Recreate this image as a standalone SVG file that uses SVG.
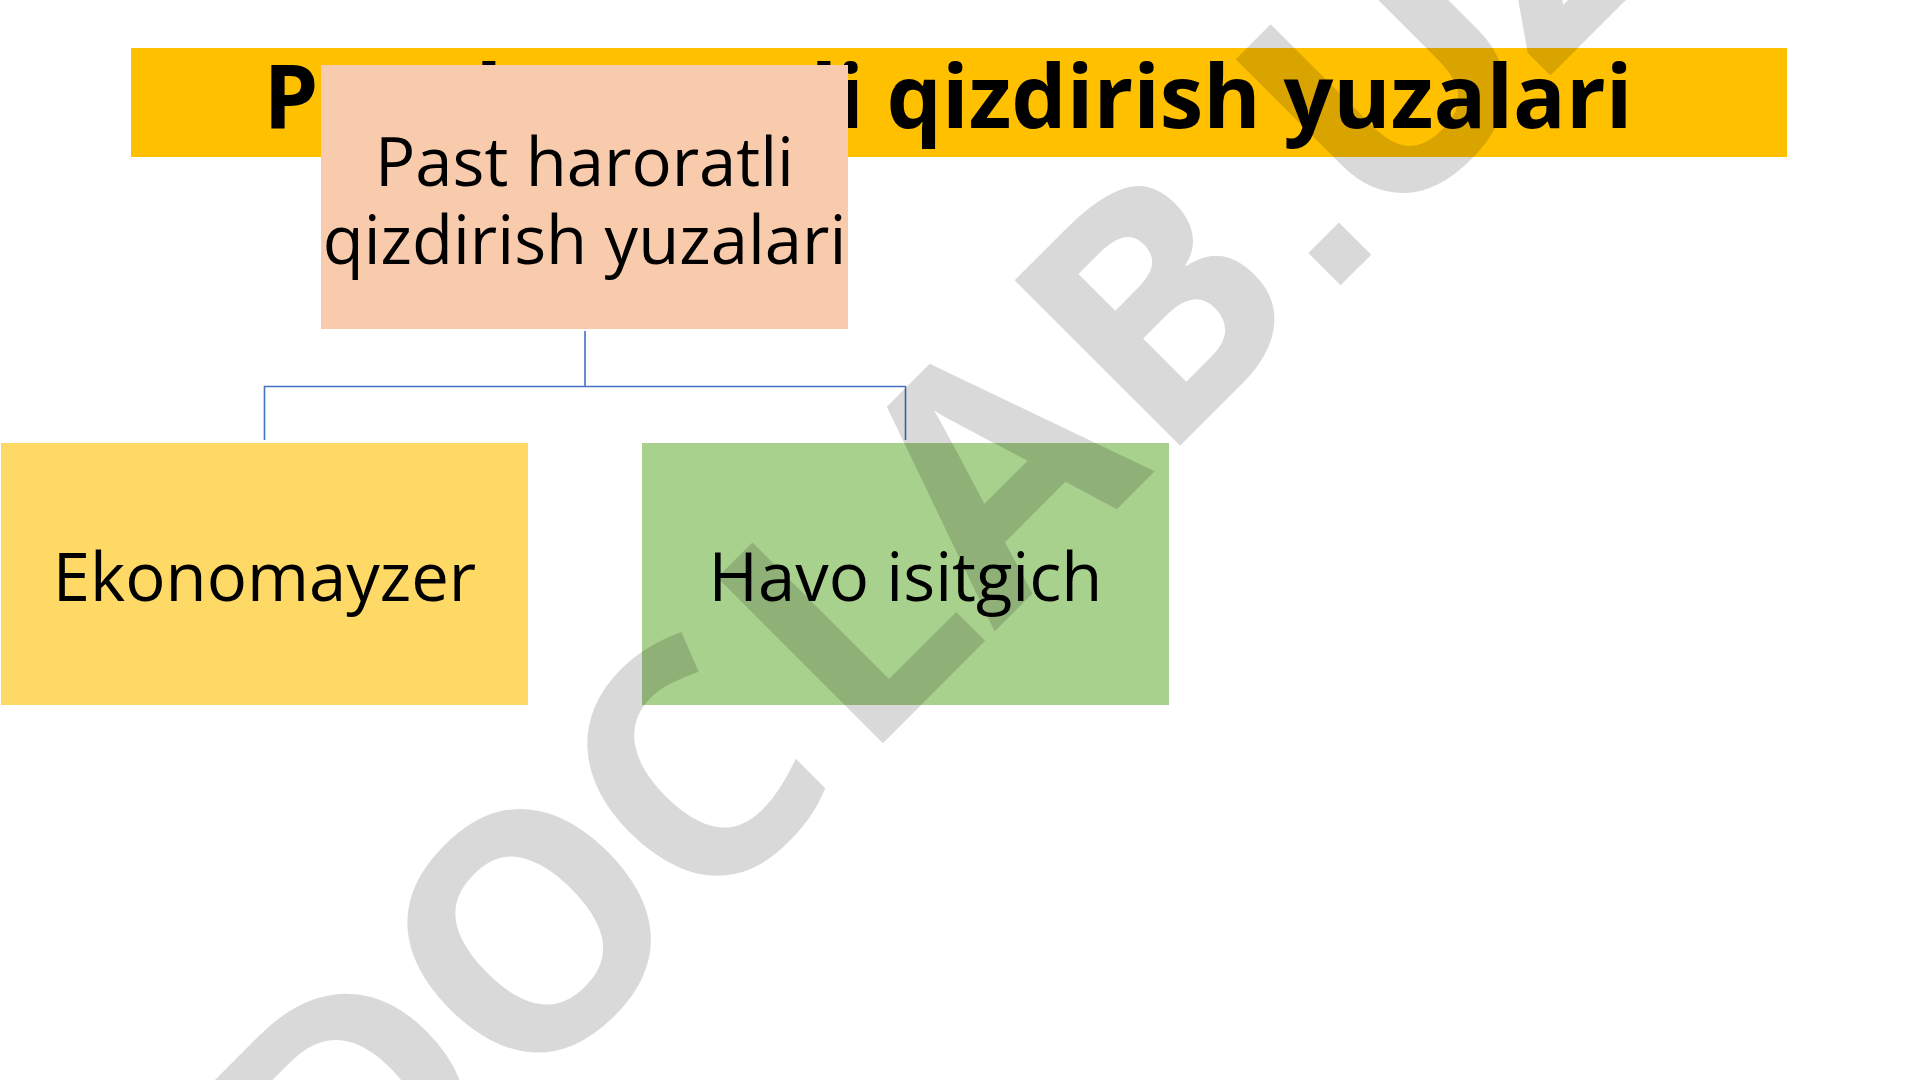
<svg xmlns="http://www.w3.org/2000/svg" width="1920" height="1080" viewBox="0 0 1920 1080">
  <style>
    .label { font-family: "Open Sans", "Noto Sans", "Liberation Sans", sans-serif; font-size: 67px; fill: #000000; text-anchor: middle; }
    .title { font-family: "Open Sans", "Noto Sans", "Liberation Sans", sans-serif; font-size: 87.5px; font-weight: bold; fill: #000000; text-anchor: middle; }
    .conn { fill: none; stroke: #4472C4; stroke-width: 1.6; }
    .wm { font-family: "Open Sans", "Noto Sans", "Liberation Sans", sans-serif; font-size: 328px; font-weight: bold; fill: #000000; fill-opacity: 0.15; text-anchor: middle; }
    .wmdot { font-family: "Liberation Sans", Arial, sans-serif; font-size: 307px; font-weight: bold; fill: #000000; fill-opacity: 0.15; text-anchor: middle; }
  </style>
  <rect x="0" y="0" width="1920" height="1080" fill="#FFFFFF"/>

  <g id="title">
    <rect x="131" y="48" width="1656" height="109" fill="#FFC000"/>
    <text class="title" x="948" y="128">Past haroratli qizdirish yuzalari</text>
  </g>

  <g id="connectors">
    <path class="conn" d="M585 331 V386.5 M264.5 440 V386.5 H905.5 V440"/>
  </g>

  <g id="node-root">
    <rect x="321" y="65" width="527" height="264" fill="#F8CBAD"/>
    <text class="label" x="584.5" y="186">Past haroratli</text>
    <text class="label" x="584.5" y="264">qizdirish yuzalari</text>
  </g>

  <g id="node-ekonomayzer">
    <rect x="1" y="443" width="527" height="262" fill="#FFD966"/>
    <text class="label" x="264.5" y="601">Ekonomayzer</text>
  </g>

  <g id="node-havo">
    <rect x="642" y="443" width="527" height="262" fill="#A9D18E"/>
    <text class="label" x="905.5" y="601">Havo isitgich</text>
  </g>

  <g id="watermark" transform="translate(813 813) rotate(-45)">
    <text class="wm" x="-530 -284 -58 162 370 600" y="0">DOCLAB</text>
    <text class="wmdot" x="768" y="0">.</text>
    <text class="wm" x="928 1130" y="0">UZ</text>
  </g>
</svg>
